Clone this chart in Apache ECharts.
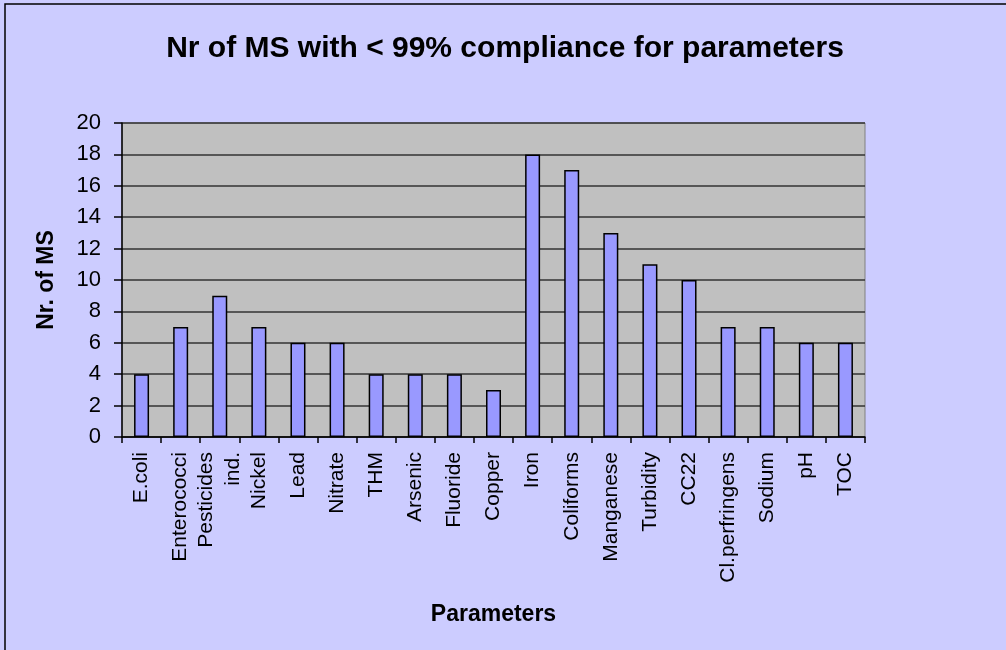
<!DOCTYPE html>
<html>
<head>
<meta charset="utf-8">
<script src="https://cdn.jsdelivr.net/npm/echarts@6/dist/echarts.min.js"></script>
<style>
  html, body { margin: 0; padding: 0; background: #ccccff; }
  #chart { width: 1006px; height: 650px; }
</style>
</head>
<body>
<div id="chart"></div>
<script>
const categories = ['E.coli', 'Enterococci', 'Pesticides\nind.', 'Nickel', 'Lead', 'Nitrate', 'THM', 'Arsenic', 'Fluoride', 'Copper',
  'Iron', 'Coliforms', 'Manganese', 'Turbidity', 'CC22', 'Cl.perfringens', 'Sodium', 'pH', 'TOC']
const msCount = [4, 7, 9, 7, 6, 6, 4, 4, 4, 3, 18, 17, 13, 11, 10, 7, 7, 6, 6]

const chart = echarts.init(document.getElementById('chart'))
const font = 'Liberation Sans, Arial, sans-serif'

chart.setOption({
  backgroundColor: '#ccccff',
  animation: false,
  title: {
    text: 'Nr of MS with < 99% compliance for parameters',
    left: 500,
    top: 29,
    textAlign: 'center',
    textStyle: { fontFamily: font, fontSize: 30, fontWeight: 'bold', color: '#000' }
  },
  graphic: [{
    type: 'rect',
    shape: { x: 5, y: 4, width: 1100, height: 700 },
    style: { fill: 'none', stroke: '#000', lineWidth: 1.5 }
  }],
  grid: {
    left: 122,
    right: 141,
    top: 123,
    bottom: 213,
    show: true,
    backgroundColor: '#c0c0c0',
    borderColor: '#808080',
    borderWidth: 1
  },
  xAxis: {
    type: 'category',
    data: categories,
    name: 'Parameters',
    nameLocation: 'middle',
    nameGap: 166,
    nameTextStyle: { fontFamily: font, fontSize: 23, fontWeight: 'bold', color: '#000' },
    axisLine: { lineStyle: { color: '#000', width: 1.5 } },
    axisTick: { show: true, length: 6, lineStyle: { color: '#000', width: 1.5 } },
    axisLabel: {
      rotate: 90,
      interval: 0,
      margin: 15,
      fontFamily: font,
      fontSize: 21,
      color: '#000',
      lineHeight: 27
    }
  },
  yAxis: {
    type: 'value',
    min: 0,
    max: 20,
    interval: 2,
    name: 'Nr. of MS',
    nameLocation: 'middle',
    nameGap: 64,
    nameTextStyle: { fontFamily: font, fontSize: 23, fontWeight: 'bold', color: '#000' },
    axisLine: { show: true, lineStyle: { color: '#000', width: 1.5 } },
    axisTick: { show: true, length: 8, lineStyle: { color: '#000', width: 1.5 } },
    axisLabel: { fontFamily: font, fontSize: 22, color: '#000', margin: 21 },
    splitLine: { show: true, lineStyle: { color: '#333', width: 1.5 } }
  },
  series: [{
    type: 'bar',
    data: msCount,
    barWidth: 15,
    itemStyle: { color: '#9999ff', borderColor: '#000', borderWidth: 1.5 }
  }]
})
</script>
</body>
</html>
